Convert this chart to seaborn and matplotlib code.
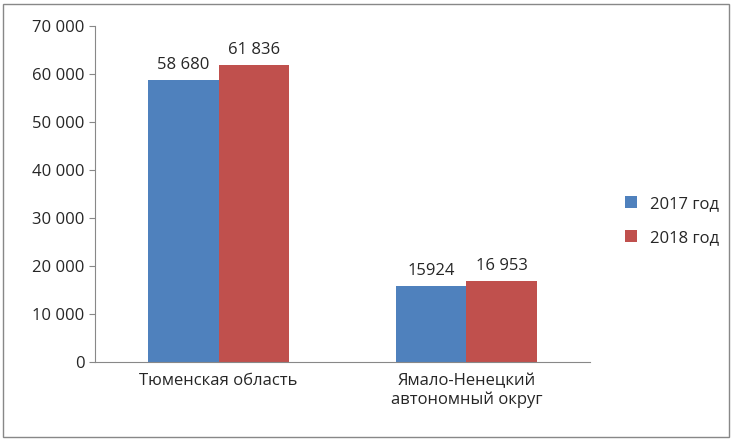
import matplotlib
matplotlib.use("Agg")
import matplotlib.pyplot as plt
import seaborn as sns
import pandas as pd
from matplotlib.patches import FancyBboxPatch

categories = ["Тюменская область", "Ямало-Ненецкий\nавтономный округ"]
series = ["2017 год", "2018 год"]
values_2017 = [58680, 15924]
values_2018 = [61836, 16953]
labels_2017 = ["58 680", "15924"]
labels_2018 = ["61 836", "16 953"]
yticks = [0, 10000, 20000, 30000, 40000, 50000, 60000, 70000]
ytick_labels = ["0", "10 000", "20 000", "30 000", "40 000", "50 000", "60 000", "70 000"]

sns.set_style("white")
plt.rcParams['font.family'] = ['Open Sans', 'DejaVu Sans']

df = pd.DataFrame({
    "cat": categories * 2,
    "series": [series[0]] * 2 + [series[1]] * 2,
    "val": values_2017 + values_2018,
})

fig = plt.figure(figsize=(7.35, 4.41), dpi=100)
fig.patches.append(FancyBboxPatch((0.004, 0.01), 0.988, 0.982, boxstyle="square,pad=0",
                                  transform=fig.transFigure, fill=False, edgecolor="#888888", lw=1.0))
ax = fig.add_axes([0.129, 0.179, 0.674, 0.762])
sns.barplot(data=df, x="cat", y="val", hue="series", palette=["#4F81BD", "#C0504D"],
            width=0.57, ax=ax, saturation=1, edgecolor="none")
ax.set_ylim(0, 70000)
ax.set_yticks(yticks)
ax.set_yticklabels(ytick_labels, fontsize=12)
ax.set_xlabel("")
ax.set_ylabel("")
ax.tick_params(axis="x", labelsize=12, length=0, pad=8)
ax.tick_params(axis="y", left=True, length=4, color="#888888")
for s in ["top", "right"]:
    ax.spines[s].set_visible(False)
for s in ["left", "bottom"]:
    ax.spines[s].set_color("#888888")
for cont, labs in zip(ax.containers, [labels_2017, labels_2018]):
    ax.bar_label(cont, labels=labs, padding=5, fontsize=12)
ax.legend(loc="center left", bbox_to_anchor=(1.04, 0.42), frameon=False, fontsize=12,
          handlelength=0.7, handleheight=0.7, labelspacing=1.1)
fig.savefig("out.png", dpi=100)
